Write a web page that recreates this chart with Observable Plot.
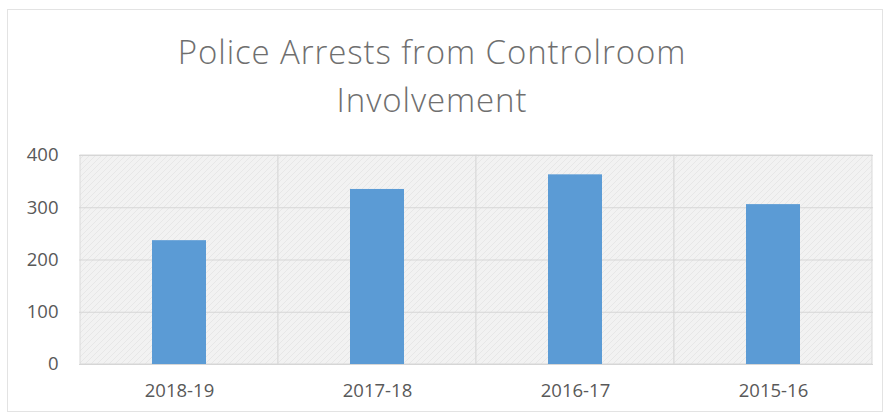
<!DOCTYPE html>
<html>
<head>
<meta charset="utf-8">
<script src="https://cdn.jsdelivr.net/npm/d3@7"></script>
<script src="https://cdn.jsdelivr.net/npm/@observablehq/plot@0.6"></script>
<style>
  html, body { margin: 0; padding: 0; background: #fff; }
  #wrap { position: relative; width: 889px; height: 416px; overflow: hidden; }
  #frame { position: absolute; left: 7px; top: 9px; width: 876px; height: 403px; border: 1px solid #e3e3e3; box-sizing: border-box; }
  #title { position: absolute; left: 0; top: 28px; width: 864px; text-align: center;
           font-family: "Open Sans", sans-serif; font-weight: 300; font-size: 33px; letter-spacing: 0.9px;
           line-height: 48px; color: #6f6f6f; }
  #chart { position: absolute; left: 0; top: 140px; }
</style>
</head>
<body>
<div id="wrap">
  <div id="frame"></div>
  <div id="title">Police Arrests from Controlroom<br>Involvement</div>
  <div id="chart"></div>
</div>
<script>
const categories = ["2018-19", "2017-18", "2016-17", "2015-16"];
const arrests = [237, 335, 363, 306];
const yTicks = [0, 100, 200, 300, 400];

const data = categories.map((c, i) => ({year: c, value: arrests[i]}));

const plot = Plot.plot({
  width: 889,
  height: 276,
  marginLeft: 79,
  marginRight: 16,
  marginTop: 15,
  marginBottom: 52,
  style: {fontFamily: "'Open Sans', sans-serif", fontSize: "18.5px", color: "#595959", background: "transparent"},
  x: {type: "band", domain: categories, padding: 0, label: null, tickSize: 0, tickPadding: 19},
  y: {domain: [0, 400], ticks: yTicks, label: null, tickSize: 0, tickPadding: 21},
  marks: [
    Plot.cell(categories, {x: d => d, fill: "url(#bgpat)", stroke: "#d9d9d9", strokeWidth: 1}),
    Plot.ruleY(yTicks, {y: d => d, stroke: "#d6d6d6", strokeWidth: 1.2}),
    Plot.barY(data, {x: "year", y: "value", fill: "#5b9bd5", insetLeft: 72, insetRight: 72})
  ]
});

const ns = "http://www.w3.org/2000/svg";
const defs = document.createElementNS(ns, "defs");
defs.innerHTML = `<pattern id="bgpat" width="6" height="6" patternUnits="userSpaceOnUse">
  <rect width="6" height="6" fill="#f2f2f2"></rect>
  <path d="M0,3 L3,0 M3,6 L6,3" stroke="#e4e4e4" stroke-width="0.8"></path>
</pattern>`;
plot.insertBefore(defs, plot.firstChild);
document.getElementById("chart").appendChild(plot);
</script>
</body>
</html>
